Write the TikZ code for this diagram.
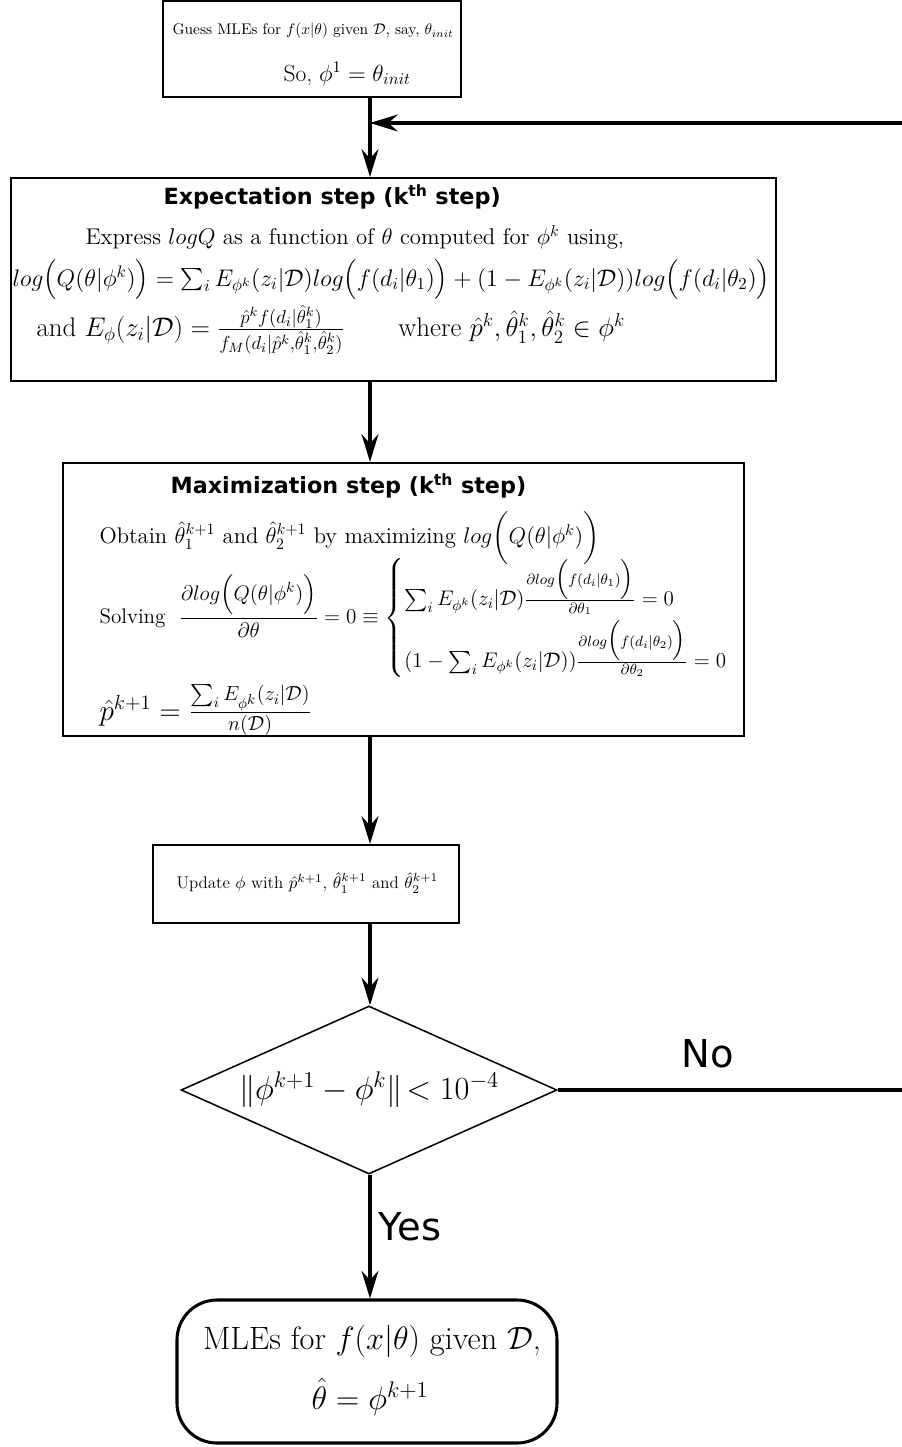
\RequirePackage{fix-cm}
\documentclass[tikz,border=0pt]{standalone}
\usepackage{amsmath}
\usepackage{fontspec}
\newfontfamily\headfont{DejaVu Sans}
\usetikzlibrary{shapes.geometric,arrows.meta}

\newcommand{\pu}{0.65pt}
\newcommand{\sz}[1]{\fontsize{#1}{1.2\dimexpr#1pt\relax}\selectfont}

\tikzset{every picture/.style={line width=0.75pt}}

\begin{document}
\begin{tikzpicture}[x=0.65pt,y=-0.65pt,
  box/.style={draw, line width=1.4pt, inner sep=0pt},
  txt/.style={inner sep=0pt, anchor=west},
  heading/.style={inner sep=0pt, anchor=west, font=\headfont\bfseries\sz{14.5}},
  arr/.style={line width=2pt, -{Stealth[length=18pt,width=11pt,inset=6pt]}}]
\useasboundingbox (0,0) rectangle (901,1447);

%Boxes
\node[box, minimum width=298*\pu, minimum height=96*\pu] (guess) at (312,49) {};
\node[box, minimum width=765*\pu, minimum height=203*\pu] (estep) at (393.5,279.5) {};
\node[box, minimum width=681*\pu, minimum height=273*\pu] (mstep) at (403.5,599.5) {};
\node[box, minimum width=306*\pu, minimum height=78*\pu] (update) at (306,884) {};
\node[draw, shape=diamond, line width=1pt, inner sep=0pt, minimum width=376*\pu, minimum height=168*\pu] (check) at (369,1090) {};
\node[draw, line width=2pt, rounded corners=26pt, inner sep=0pt, minimum width=380*\pu, minimum height=143*\pu] (mle) at (367,1371.5) {};

%Guess box text
\node[txt, font=\sz{10}] (guess1) at (172,31) {Guess MLEs for $f(x|\theta)$ given $\mathcal{D}$, say, $\theta_{init}$};
\node[txt, font=\sz{15.2}] (guess2) at (283,74) {So, $\phi^1=\theta_{init}$};

%Expectation step
\node[heading] (ehead) at (163,197) {Expectation step (k\textsuperscript{th} step)};
\node[txt, font=\sz{14.8}] (e1) at (85,237) {Express $logQ$ as a function of $\theta$ computed for $\phi^k$ using,};
\node[txt, font=\sz{15.6}] (e2) at (12,280) {$log\Bigl(Q(\theta|\phi^k)\Bigr)=\sum_i E_{\phi^k}(z_i|\mathcal{D})log\Bigl(f(d_i|\theta_1)\Bigr)+(1-E_{\phi^k}(z_i|\mathcal{D}))log\Bigl(f(d_i|\theta_2)\Bigr)$};
\node[txt, font=\sz{17.5}] (e3) at (36,330) {and $E_\phi(z_i|\mathcal{D})=\frac{\hat{p}^kf(d_i|\hat{\theta}_1^k)}{f_M(d_i|\hat{p}^k,\hat{\theta}_1^k,\hat{\theta}_2^k)}$\qquad where $\hat{p}^k,\hat{\theta}_1^k,\hat{\theta}_2^k\in\phi^k$};

%Maximization step
\node[heading] (mhead) at (170,486) {Maximization step (k\textsuperscript{th} step)};
\node[txt, font=\sz{14.7}] (m1) at (99,538) {Obtain $\hat{\theta}_1^{k+1}$ and $\hat{\theta}_2^{k+1}$ by maximizing $log\biggl(Q(\theta|\phi^k)\biggr)$};
\node[txt, font=\sz{13.7}] (m2) at (99,618) {Solving\ \ $\dfrac{\partial log\Bigl(Q(\theta|\phi^k)\Bigr)}{\partial\theta}=0\equiv\begin{cases}\sum_i E_{\phi^k}(z_i|\mathcal{D})\frac{\partial log\Bigl(f(d_i|\theta_1)\Bigr)}{\partial\theta_1}=0\\[4pt](1-\sum_i E_{\phi^k}(z_i|\mathcal{D}))\frac{\partial log\Bigl(f(d_i|\theta_2)\Bigr)}{\partial\theta_2}=0\end{cases}$};
\node[txt, font=\sz{19}] (m3) at (99,710) {$\hat{p}^{k+1}=\frac{\sum_i E_{\phi^k}(z_i|\mathcal{D})}{n(\mathcal{D})}$};

%Update, check, result
\node[txt, font=\sz{11}] (u1) at (176,883) {Update $\phi$ with $\hat{p}^{k+1}$, $\hat{\theta}_1^{k+1}$ and $\hat{\theta}_2^{k+1}$};
\node[inner sep=0pt, font=\sz{21}] (checktxt) at (check.center) {$\|\phi^{k+1}-\phi^k\|\!<10^{-4}$};
\node[inner sep=0pt, font=\sz{21}] (mle1) at (372,1341) {MLEs for $f(x|\theta)$ given $\mathcal{D}$,};
\node[inner sep=0pt, font=\sz{21}] (mle2) at (370,1397) {$\hat{\theta}=\phi^{k+1}$};

%Connectors
\coordinate (spine) at (370,0);
\coordinate (merge) at (370,123);
\coordinate (rim) at (915,0);
\draw[line width=2pt] (guess.south -| spine) -- (merge);
\draw[arr] (merge) -- (estep.north -| spine);
\draw[arr] (estep.south -| spine) -- (mstep.north -| spine);
\draw[arr] (mstep.south -| spine) -- (update.north -| spine);
\draw[arr] (update.south -| spine) -- (check.north -| spine);
\draw[arr] (check.south -| spine) -- node[pos=0.42, right=1.5pt, font=\headfont\sz{25}] (yes) {Yes} (mle.north -| spine);
\draw[arr] (check.east) -- (check.east -| rim) |- (merge);
\node[font=\headfont\sz{25}] (no) at (708,1054) {No};
\end{tikzpicture}
\end{document}
